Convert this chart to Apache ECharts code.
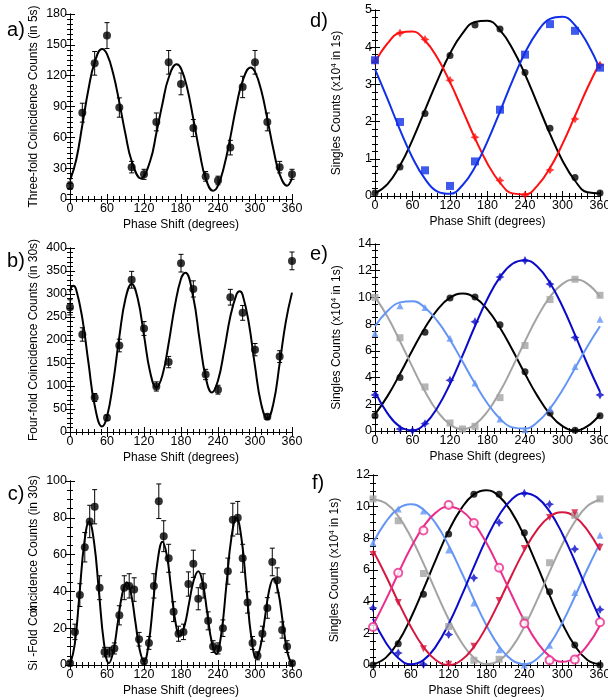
<!DOCTYPE html>
<html><head><meta charset="utf-8">
<script src="https://cdn.jsdelivr.net/npm/echarts@6/dist/echarts.min.js"></script>
<style>html,body{margin:0;padding:0;background:#fff}#c{width:608px;height:700px}</style>
</head><body><div id="c"></div>
<script>
// ---------- data ----------
const xTickLabels = [0, 60, 120, 180, 240, 300, 360];

// panel a (three-fold)
const aX = [0,20,40,60,80,100,120,140,160,180,200,220,240,260,280,300,320,340,360];
const aY = [13,84,132,159,89,31,24,75,133,112,69,22,18,50,109,133,75,31,24];
const aErr = [3.6,9.2,11.5,12.6,9.4,5.6,4.9,8.7,11.5,10.6,8.3,4.7,4.2,7.1,10.4,11.5,8.7,5.6,4.9];
const aCurveX = [0,10,20,30,40,52,60,70,80,90,100,115,130,140,150,160,173,180,190,200,210,220,232,240,250,260,270,280,293,300,310,320,330,340,352,360];
const aCurveY = [18,38,72,107,133,146,141,122,94,63,37,20,37,64,93,118,131,127,108,78,46,20,8,13,32,60,91,115,128,124,106,78,48,24,13,20];

// panel b (four-fold)
const bX = [0,20,40,60,80,100,120,140,160,180,200,220,240,260,280,300,320,340,360];
const bY = [271,212,75,31,188,331,225,99,152,367,311,125,92,293,259,179,33,164,372];
const bErr = [16.5,14.6,8.7,5.6,13.7,18.2,15,10,12.3,19.2,17.6,11.2,9.6,17.1,16.1,13.4,5.7,12.8,19.3];
const bCurveX = [0,5,10,20,30,40,52,60,70,80,90,100,110,120,130,140,150,160,170,180,187,200,210,220,230,240,250,260,270,275,280,290,300,310,320,330,340,350,360];
const bCurveY = [305,318,310,247,150,58,12,33,108,207,290,322,289,210,130,97,124,193,274,333,346,292,202,119,86,112,177,251,299,306,298,237,143,61,29,63,149,240,303];

// panel c (six-fold)
const cX = [0,8,16,24,32,40,48,56,64,72,80,88,96,104,112,120,128,136,144,152,160,168,176,184,192,200,208,216,224,232,240,248,256,264,272,280,288,296,304,312,320,328,336,344,352,360];
const cY = [1,18,38,64,78,86,42,7,7,9,27,42,43,41,14,2,12,43,89,70,58,29,17,18,44,55,36,43,24,10,9,20,51,79,80,58,34,12,5,17,31,56,46,19,10,1];
const cErr = [1,4.2,6.2,8,8.8,9.3,6.5,2.6,2.6,3,5.2,6.5,6.6,6.4,3.7,1.4,3.5,6.6,9.4,8.4,7.6,5.4,4.1,4.2,6.6,7.4,6,6.6,4.9,3.2,3,4.5,7.1,8.9,8.9,7.6,5.8,3.5,2.2,4.1,5.6,7.5,6.8,4.4,3.2,1];
const cCurveX = [0,7.75,15.5,23.25,31,39,47,55,63,70.25,77.5,84.75,92,99,106,113,120,127.5,135,142.5,150,157,164,171,178,185.5,193,200.5,208,215.25,222.5,229.75,237,245.25,253.5,261.75,270,278,286,294,302,309,316,323,330,337.5,345,352.5,360];
const cCurveY = [0,11.4,39,66.6,78,66.8,39.5,12.2,1,7.4,23,38.6,45,38.7,23.5,8.3,2,11.5,34.5,57.5,67,59.6,41.5,23.4,16,21.1,33.5,45.9,51,44.4,28.5,12.6,6,16.8,43,69.2,80,68.9,42,15.1,4,10.3,25.5,40.7,47,40.1,23.5,6.9,0];

// common curve sampling for singles panels
const sCurveX = [0,20,40,60,80,100,120,140,160,180,200,220,240,260,280,300,320,340,360];

// panel d
const dX = [0,40,80,120,160,200,240,280,320,360];
const dBlackY = [0.08,0.78,2.22,3.78,4.6,4.49,3.32,1.82,0.5,0.08];
const dRedY = [3.63,4.38,4.21,3.11,1.58,0.42,0.03,0.7,2.07,3.52];
const dBlueY = [3.65,1.99,0.69,0.27,0.93,2.32,3.80,4.62,4.44,3.45];
const dBlackCurve = [0.07,0.32,0.82,1.51,2.31,3.11,3.83,4.37,4.68,4.71,4.46,3.96,3.27,2.47,1.67,0.95,0.41,0.10,0.07];
const dRedCurve = [3.59,4.10,4.39,4.42,4.18,3.71,3.06,2.31,1.55,0.87,0.36,0.07,0.04,0.28,0.75,1.40,2.15,2.91,3.59];
const dBlueCurve = [3.41,2.61,1.78,1.03,0.46,0.12,0.06,0.29,0.78,1.47,2.27,3.10,3.85,4.42,4.76,4.82,4.59,4.10,3.41];

// panel e
const eBlackX = [0,40,80,120,160,200,240,280,320,360];
const eBlackY = [1.15,4.0,7.4,9.96,10.04,7.95,4.43,1.35,0.05,1.15];
const eGrayX = [0,40,80,120,140,160,200,240,280,320,360];
const eGrayY = [10.0,6.98,3.3,0.6,0.15,0.35,2.5,6.4,9.84,11.36,10.16];
const eBlueX = [0,40,60,80,120,160,200,240,280,320,360];
const eBlueY = [2.7,0.15,0.02,0.55,3.8,8.17,11.53,12.76,11.0,7.0,2.7];
const eLightX = [0,40,80,120,160,200,240,280,320,360];
const eLightY = [7.3,9.37,9.25,6.95,3.6,0.9,0.1,1.67,4.83,8.37];
const eBlackCurve = [1.25,2.61,4.28,6.06,7.73,9.09,9.98,10.29,9.98,9.09,7.73,6.06,4.28,2.61,1.25,0.36,0.05,0.36,1.25];
const eGrayCurve = [10.04,8.55,6.72,4.78,2.95,1.46,0.49,0.15,0.49,1.46,2.95,4.78,6.72,8.55,10.04,11.01,11.35,11.01,10.04];
const eBlueCurve = [2.94,1.32,0.32,0.05,0.54,1.76,3.52,5.64,7.86,9.90,11.52,12.52,12.79,12.30,11.08,9.32,7.20,4.98,2.94];
const eLightCurve = [7.84,8.98,9.63,9.72,9.23,8.22,6.83,5.20,3.55,2.06,0.92,0.27,0.18,0.67,1.68,3.07,4.70,6.35,7.84];

// panel f
const fX = [0,40,80,120,160,200,240,280,320,360];
const fBlackY = [0,1.35,4.47,8.27,10.78,10.78,8.35,4.62,1.27,0];
const fGrayY = [10.49,9.11,5.78,2.43,0.3,0.36,2.85,6.46,9.45,10.49];
const fLightY = [7.72,9.85,9.73,7.26,3.92,0.97,0.0,1.24,4.58,8.2];
const fBlueY = [3.6,0.76,0.04,1.92,5.5,8.99,10.84,10.15,7.32,3.5];
const fRedY = [6.98,3.95,1.03,0.04,1.18,4.07,7.36,9.32,9.62,7.43];
const fPinkY = [2.4,5.82,8.5,10.1,8.97,6.14,2.62,0.3,0.34,2.7];
const fBlackCurve = [0.05,0.45,1.46,2.97,4.79,6.69,8.47,9.88,10.78,11.04,10.65,9.64,8.13,6.31,4.41,2.64,1.22,0.32,0.05];
const fGrayCurve = [10.44,10.22,9.40,8.08,6.42,4.62,2.89,1.45,0.46,0.06,0.28,1.10,2.42,4.08,5.88,7.61,9.05,10.04,10.44];
const fLightCurve = [7.70,9.02,9.88,10.15,9.82,8.91,7.55,5.89,4.14,2.50,1.18,0.32,0.05,0.38,1.29,2.65,4.31,6.06,7.70];
const fBlueCurve = [2.92,1.44,0.44,0.05,0.31,1.19,2.59,4.33,6.20,7.98,9.46,10.46,10.85,10.59,9.70,8.31,6.57,4.70,2.92];
const fRedCurve = [7.24,5.67,3.99,2.42,1.14,0.30,0.01,0.30,1.14,2.42,3.99,5.67,7.24,8.52,9.36,9.65,9.36,8.52,7.24];
const fPinkCurve = [2.50,4.08,5.78,7.40,8.74,9.64,10.0,9.76,8.96,7.70,6.12,4.42,2.80,1.46,0.56,0.20,0.44,1.24,2.50];

// ---------- build ----------
const FONT = 'Liberation Sans, Arial, Helvetica, sans-serif';
const zip = (xs, ys) => xs.map((x, i) => [x, ys[i]]);
const zip3 = (xs, ys, es) => xs.map((x, i) => [x, ys[i], es[i]]);

const grids = [], xAxes = [], yAxes = [], series = [];

const singlesName = '{t|Singles Counts (x10}{s|4}{t| in 1s)}';

const panels = [
  {box:{left:70, top:14, width:222, height:185}, yMax:180, yInt:30, yMinor:6, name:'Three-fold Coincidence Counts (in 5s)'},
  {box:{left:70, top:248, width:222, height:184}, yMax:400, yInt:50, yMinor:5, name:'Four-fold Coincidence Counts (in 30s)'},
  {box:{left:70, top:481, width:222, height:184}, yMax:100, yInt:20, yMinor:4, name:'Si -Fold Coincidence Counts (in 30s)'},
  {box:{left:375, top:10, width:225, height:186}, yMax:5, yInt:1, yMinor:5, name:singlesName},
  {box:{left:375, top:244, width:225, height:187}, yMax:14, yInt:2, yMinor:4, name:singlesName},
  {box:{left:373, top:475, width:227, height:190}, yMax:12, yInt:2, yMinor:4, name:singlesName}
];

const axLine = {show:true, lineStyle:{color:'#000', width:1}};
const tick = {show:true, inside:true, length:5, lineStyle:{color:'#000', width:1}};
const minor = (n) => ({show:true, splitNumber:n, length:3, lineStyle:{color:'#000', width:1}});

panels.forEach((p, i) => {
  grids.push(Object.assign({outerBoundsMode:'none', containLabel:false}, p.box));
  const xb = {
    type:'value', gridIndex:i, min:0, max:360, interval:60, position:'bottom',
    axisLine:axLine, axisTick:tick, minorTick:minor(6), splitLine:{show:false},
    axisLabel:{show:true, color:'#000', fontSize:12.5, fontFamily:FONT, margin:3,
      formatter:(v) => (xTickLabels.indexOf(v) >= 0 ? String(v) : '')},
    name:'Phase Shift (degrees)', nameLocation:'middle', nameGap:20, nameMoveOverlap:false,
    nameTextStyle:{color:'#000', fontSize:12, fontFamily:FONT}
  };
  const xt = {
    type:'value', gridIndex:i, min:0, max:360, interval:60, position:'top',
    axisLine:axLine, axisTick:tick, minorTick:minor(6), splitLine:{show:false}, axisLabel:{show:false}
  };
  const yl = {
    type:'value', gridIndex:i, min:0, max:p.yMax, interval:p.yInt, position:'left',
    axisLine:axLine, axisTick:tick, minorTick:minor(p.yMinor), splitLine:{show:false},
    axisLabel:{show:true, color:'#000', fontSize:12.5, fontFamily:FONT, margin:3},
    name:p.name, nameLocation:'middle', nameGap: (i < 3 ? 30 : 31), nameRotate:90, nameMoveOverlap:false,
    nameTextStyle:{color:'#000', fontSize:12, fontFamily:FONT,
      rich:{t:{fontSize:12, fontFamily:FONT, color:'#000'}, s:{fontSize:8, fontFamily:FONT, color:'#000', verticalAlign:'top', padding:[0,0,6,0]}}}
  };
  const yr = {
    type:'value', gridIndex:i, min:0, max:p.yMax, interval:p.yInt, position:'right',
    axisLine:axLine, axisTick:tick, minorTick:minor(p.yMinor), splitLine:{show:false}, axisLabel:{show:false}
  };
  xAxes.push(xb, xt);
  yAxes.push(yl, yr);
});

function curve(i, xs, ys, color) {
  series.push({type:'line', xAxisIndex:2*i, yAxisIndex:2*i, data:zip(xs, ys), showSymbol:false,
    smooth:0.45, lineStyle:{color:color, width:2}, silent:true, z:2});
}
function pts(i, xs, ys, color, symbol, size, extra) {
  series.push(Object.assign({type:'scatter', xAxisIndex:2*i, yAxisIndex:2*i, data:zip(xs, ys),
    symbol:symbol, symbolSize:size, itemStyle:{color:color}, clip:false, silent:true, z:4}, extra || {}));
}
function errs(i, xs, ys, es) {
  series.push({type:'custom', xAxisIndex:2*i, yAxisIndex:2*i, data:zip3(xs, ys, es), clip:false, silent:true, z:3,
    encode:{x:0, y:1},
    renderItem:(params, api) => {
      const x = api.value(0), y = api.value(1), e = api.value(2);
      const top = api.coord([x, y + e]), bot = api.coord([x, y - e]);
      const st = {stroke:'#000', lineWidth:1};
      return {type:'group', children:[
        {type:'line', shape:{x1:top[0], y1:top[1], x2:bot[0], y2:bot[1]}, style:st},
        {type:'line', shape:{x1:top[0]-2.5, y1:top[1], x2:top[0]+2.5, y2:top[1]}, style:st},
        {type:'line', shape:{x1:bot[0]-2.5, y1:bot[1], x2:bot[0]+2.5, y2:bot[1]}, style:st}
      ]};
    }});
}

const STAR = 'path://M0,-10 L3.5,-3.5 L10,0 L3.5,3.5 L0,10 L-3.5,3.5 L-10,0 L-3.5,-3.5 Z';
const BLACK = '#000', GRAY = '#a3a3a3', LIGHT = '#6495f5', DBLUE = '#0a0ac8', RED = '#ff1010', BLUE = '#1030e8', PINK = '#ea2d8c', CRIM = '#d5173f';

// a
curve(0, aCurveX, aCurveY, BLACK); errs(0, aX, aY, aErr); pts(0, aX, aY, BLACK, 'circle', 8);
// b
curve(1, bCurveX, bCurveY, BLACK); errs(1, bX, bY, bErr); pts(1, bX, bY, BLACK, 'circle', 8);
// c
curve(2, cCurveX, cCurveY, BLACK); errs(2, cX, cY, cErr); pts(2, cX, cY, BLACK, 'circle', 8);
// d
curve(3, sCurveX, dBlackCurve, BLACK); curve(3, sCurveX, dRedCurve, RED); curve(3, sCurveX, dBlueCurve, BLUE);
pts(3, dX, dBlackY, BLACK, 'circle', 7); pts(3, dX, dRedY, RED, STAR, 9); pts(3, dX, dBlueY, BLUE, 'rect', 8);
// e
curve(4, sCurveX, eBlackCurve, BLACK); curve(4, sCurveX, eGrayCurve, GRAY); curve(4, sCurveX, eBlueCurve, DBLUE); curve(4, sCurveX, eLightCurve, LIGHT);
pts(4, eBlackX, eBlackY, BLACK, 'circle', 7); pts(4, eGrayX, eGrayY, GRAY, 'rect', 7);
pts(4, eBlueX, eBlueY, DBLUE, STAR, 9); pts(4, eLightX, eLightY, LIGHT, 'triangle', 7);
// f
curve(5, sCurveX, fBlackCurve, BLACK); curve(5, sCurveX, fGrayCurve, GRAY); curve(5, sCurveX, fLightCurve, LIGHT);
curve(5, sCurveX, fBlueCurve, DBLUE); curve(5, sCurveX, fRedCurve, CRIM); curve(5, sCurveX, fPinkCurve, PINK);
pts(5, fX, fBlackY, BLACK, 'circle', 7); pts(5, fX, fGrayY, GRAY, 'rect', 7); pts(5, fX, fLightY, LIGHT, 'triangle', 7);
pts(5, fX, fBlueY, DBLUE, STAR, 9); pts(5, fX, fRedY, CRIM, 'triangle', 7, {symbolRotate:180});
pts(5, fX, fPinkY, PINK, 'emptyCircle', 8, {itemStyle:{color:PINK, borderColor:PINK, borderWidth:1}});

const lbl = (text, x, y) => ({type:'text', x:x, y:y, silent:true,
  style:{text:text, fill:'#000', font:'20px ' + FONT, align:'center', verticalAlign:'middle'}});

const chart = echarts.init(document.getElementById('c'), null, {renderer:'canvas'});
chart.setOption({
  animation:false,
  backgroundColor:'#fff',
  grid:grids, xAxis:xAxes, yAxis:yAxes, series:series,
  graphic:[
    lbl('a)', 16, 30), lbl('b)', 16, 261), lbl('c)', 16, 494),
    lbl('d)', 319, 21), lbl('e)', 319, 254), lbl('f)', 318, 483),
    {type:'text', x:34, y:609, rotation:Math.PI/2, silent:true,
      style:{text:'x', fill:'#000', font:'12px ' + FONT, align:'center', verticalAlign:'middle'}}
  ]
});
</script></body></html>
